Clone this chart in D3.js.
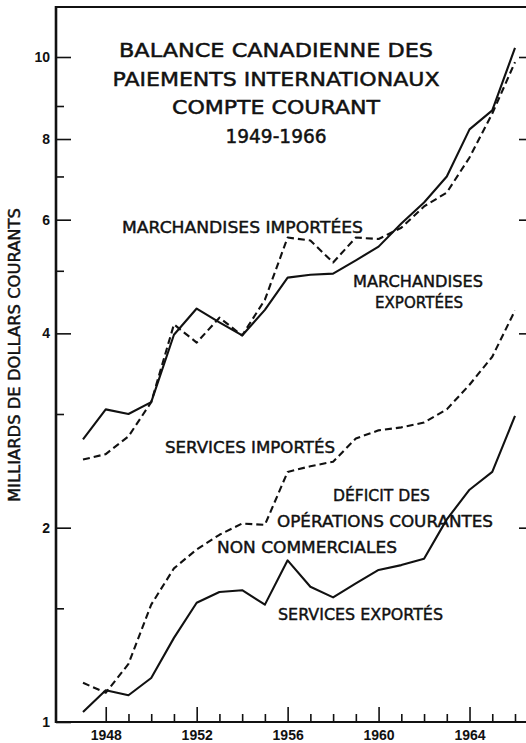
<!DOCTYPE html>
<html><head><meta charset="utf-8">
<script src="https://cdn.jsdelivr.net/npm/d3@7/dist/d3.min.js"></script>
<style>html,body{margin:0;padding:0;background:#fff;} svg{display:block}</style>
</head><body>
<svg id="chart" width="526" height="743"></svg>
<script>
// ---- data (billions of current dollars) ----
const years = [1947,1948,1949,1950,1951,1952,1953,1954,1955,1956,1957,1958,1959,1960,1961,1962,1963,1964,1965,1966];
const merchExports = [2.74,3.05,3.00,3.13,3.98,4.37,4.16,3.97,4.35,4.88,4.93,4.95,5.19,5.45,5.92,6.38,7.00,8.28,8.86,10.2];
const merchImports = [2.55,2.60,2.77,3.13,4.13,3.87,4.23,3.97,4.51,5.63,5.57,5.15,5.63,5.60,5.83,6.29,6.61,7.49,8.76,9.89];
const servImports  = [1.15,1.11,1.23,1.52,1.73,1.85,1.95,2.03,2.02,2.44,2.49,2.53,2.75,2.83,2.86,2.91,3.05,3.33,3.68,4.34];
const servExports  = [1.036,1.12,1.10,1.17,1.35,1.53,1.59,1.60,1.52,1.78,1.62,1.56,1.64,1.72,1.75,1.79,2.06,2.29,2.44,2.98];

const yMajorTicks = [1,2,4,6,8,10];
const yMinorTicks = [1.5,3,5,7,9];
const yRightTicks = [2,4,6,8,10];
const xMajorTicks = [1948,1952,1956,1960,1964];
const xMinorTicks = [1949,1950,1951,1953,1954,1955,1957,1958,1959,1961,1962,1963,1965,1966];

const titleLines = ["BALANCE CANADIENNE DES","PAIEMENTS INTERNATIONAUX","COMPTE COURANT","1949-1966"];
const yTitle = "MILLIARDS DE DOLLARS COURANTS";
const labels = [
  {t:"MARCHANDISES IMPORTÉES", x:242.5, y:233, w:241},
  {t:"MARCHANDISES", x:418, y:287, w:130},
  {t:"EXPORTÉES", x:419, y:308, w:88},
  {t:"SERVICES IMPORTÉS", x:250, y:453, w:170},
  {t:"DÉFICIT DES", x:381.5, y:501, w:97},
  {t:"OPÉRATIONS COURANTES", x:385, y:527, w:216},
  {t:"NON COMMERCIALES", x:307, y:553, w:180},
  {t:"SERVICES EXPORTÉS", x:360.5, y:620, w:165}
];

// ---- layout ----
const mLeft = 56, mRight = 526, mTop = 7, mBottom = 722;
const svg = d3.select("#chart");
const ink = "#111";

const x = d3.scaleLinear().domain([1947,1966]).range([83,515]);
// original axis is logarithmic, with the "10" mark drawn higher than a strict log would place it
const y = d3.scaleLog().domain([1,9,10]).range([722,106,57]);

// frame lines
svg.append("line").attr("x1",mLeft).attr("x2",mLeft).attr("y1",mTop-1).attr("y2",mBottom+1)
  .attr("stroke",ink).attr("stroke-width",2.6);
svg.append("line").attr("x1",mLeft).attr("x2",mRight).attr("y1",mTop).attr("y2",mTop)
  .attr("stroke",ink).attr("stroke-width",2.2);
svg.append("line").attr("x1",mLeft).attr("x2",mRight).attr("y1",mBottom).attr("y2",mBottom)
  .attr("stroke",ink).attr("stroke-width",2.2);

function styleAxis(g){
  g.select(".domain").remove();
  g.selectAll(".tick line").attr("stroke",ink).attr("stroke-width",1.6);
  g.selectAll(".tick text").attr("fill",ink).attr("font-family","Liberation Sans, Arial, sans-serif")
    .attr("font-size",14).attr("font-weight","bold");
}

// left axis
svg.append("g").attr("transform",`translate(${mLeft},0)`)
  .call(d3.axisLeft(y).tickValues(yMajorTicks).tickSize(-15).tickPadding(6).tickFormat(d3.format("d")))
  .call(styleAxis);
svg.append("g").attr("transform",`translate(${mLeft},0)`)
  .call(d3.axisLeft(y).tickValues(yMinorTicks).tickSize(-8).tickFormat(""))
  .call(styleAxis);
// right ticks
svg.append("g").attr("transform",`translate(${mRight},0)`)
  .call(d3.axisRight(y).tickValues(yRightTicks).tickSize(-7).tickFormat(""))
  .call(styleAxis);
// bottom axis
svg.append("g").attr("transform",`translate(0,${mBottom})`)
  .call(d3.axisBottom(x).tickValues(xMajorTicks).tickSize(-15).tickPadding(8).tickFormat(d3.format("d")))
  .call(styleAxis);
svg.append("g").attr("transform",`translate(0,${mBottom})`)
  .call(d3.axisBottom(x).tickValues(xMinorTicks).tickSize(-8).tickFormat(""))
  .call(styleAxis);

// lines
const line = d3.line().x((d,i)=>x(years[i])).y(d=>y(d));
const series = [
  {v:merchExports, dash:null},
  {v:merchImports, dash:"7,4"},
  {v:servImports, dash:"7,4"},
  {v:servExports, dash:null}
];
series.forEach(s=>{
  svg.append("path").attr("d",line(s.v)).attr("fill","none").attr("stroke",ink)
    .attr("stroke-width",2.1).attr("stroke-linejoin","round")
    .attr("stroke-dasharray",s.dash);
});

// title
const titleWidths = [314,327,208,101];
titleLines.forEach((t,i)=>{
  svg.append("text").attr("x",276).attr("y",57+i*28.5).attr("text-anchor","middle")
    .attr("font-family","DejaVu Sans, sans-serif").attr("font-size",20).attr("fill",ink)
    .attr("stroke",ink).attr("stroke-width",0.5)
    .attr("textLength",titleWidths[i]).attr("lengthAdjust","spacingAndGlyphs").text(t);
});

// series labels
labels.forEach(l=>{
  svg.append("text").attr("x",l.x).attr("y",l.y).attr("text-anchor","middle")
    .attr("font-family","DejaVu Sans, sans-serif").attr("font-size",16.5).attr("fill",ink)
    .attr("stroke",ink).attr("stroke-width",0.45)
    .attr("textLength",l.w).attr("lengthAdjust","spacingAndGlyphs").text(l.t);
});

// y axis title
svg.append("text").attr("transform","translate(20,355) rotate(-90)").attr("text-anchor","middle")
  .attr("font-family","DejaVu Sans, sans-serif").attr("font-size",16.5).attr("fill",ink)
  .attr("stroke",ink).attr("stroke-width",0.45)
  .attr("textLength",294).attr("lengthAdjust","spacingAndGlyphs").text(yTitle);
</script>
</body></html>
